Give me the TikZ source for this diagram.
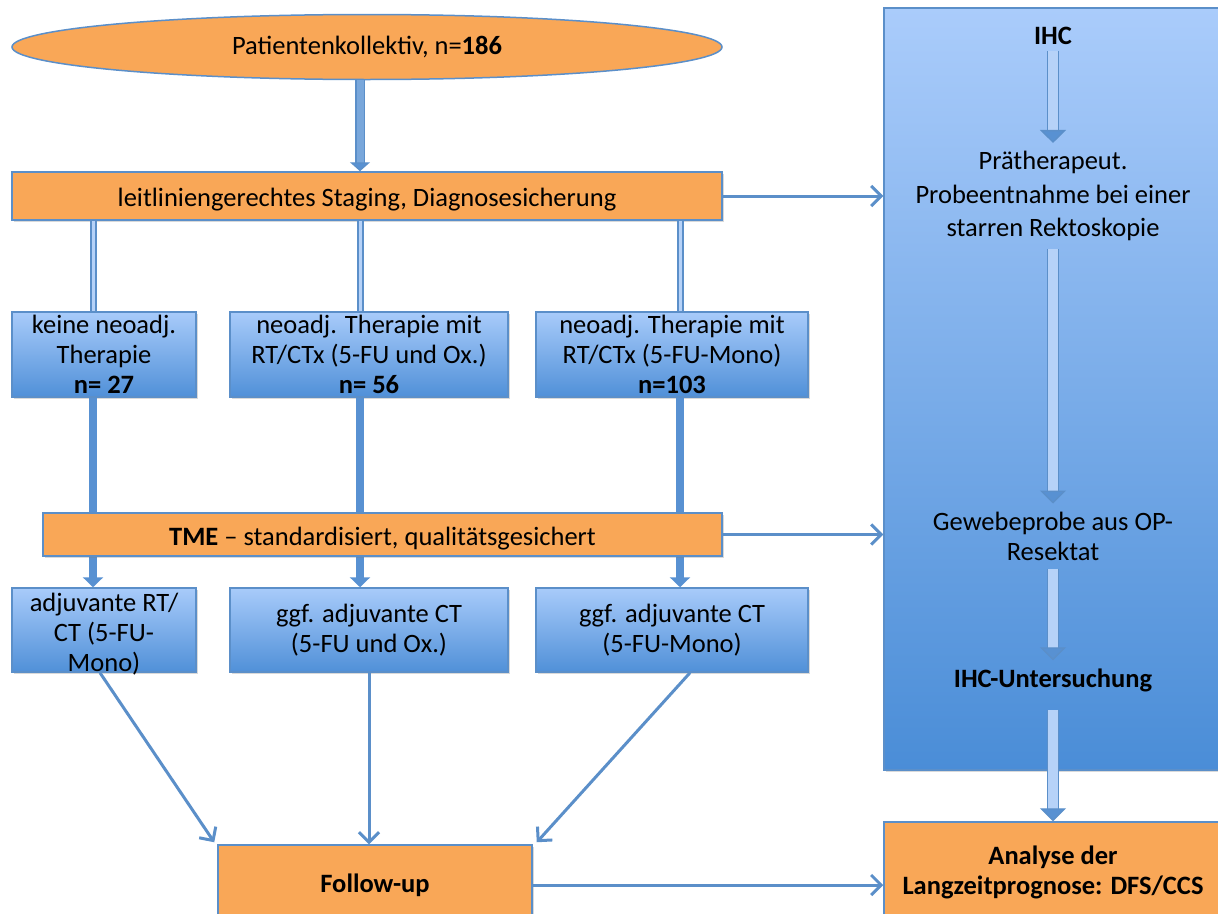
\documentclass[tikz,border=0pt]{standalone}
\usepackage{fontspec}
\setmainfont{Carlito}
\usetikzlibrary{arrows.meta,shapes.geometric,calc,shadows}
\definecolor{org}{RGB}{249,167,87}
\definecolor{bord}{RGB}{91,143,201}
\definecolor{ltop}{RGB}{168,203,250}
\definecolor{lbot}{RGB}{80,144,216}
\definecolor{ptop}{RGB}{170,204,251}
\definecolor{pbot}{RGB}{74,141,215}
\definecolor{shaft}{RGB}{182,210,248}
\definecolor{solidb}{RGB}{88,145,210}
\begin{document}
\begin{tikzpicture}[x=1pt,y=-1pt,
  font=\fontsize{26.5}{30}\selectfont,
  shad/.style={drop shadow={shadow xshift=2pt,shadow yshift=-2pt,opacity=0.3}},
  obox/.style={draw=bord,line width=1.5pt,fill=org,align=center,inner sep=2pt,shad},
  bbox/.style={draw=bord,line width=1.5pt,top color=ltop,bottom color=lbot,align=center,inner sep=2pt,shad},
  ptext/.style={align=center,inner sep=2pt},
  blockarr/.style={draw=bord,line width=1.3pt,double=shaft,double distance=10pt,
     -{Triangle[width=26pt,length=13pt,fill=solidb]}},
  toparr/.style={draw=bord,line width=1.3pt,double=solidb!80,double distance=7pt,
     -{Triangle[width=20pt,length=9pt,fill=solidb]}},
  colline/.style={draw=bord,line width=2pt,double=shaft,double distance=3pt},
  solidarr/.style={draw=solidb,line width=8pt,-{Triangle[width=20pt,length=10pt]}},
  thinarr/.style={draw=bord,line width=3pt,-{Straight Barb[length=10pt,width=20pt]}}
]
\useasboundingbox (0,0) rectangle (1218,913);

% right panel
\node[draw=bord,line width=1.5pt,top color=ptop,bottom color=pbot,minimum width=336pt,minimum height=762pt,inner sep=0pt,shad] (panel) at (1052,389) {};

% top ellipse and staging
\node[ellipse,draw=bord,line width=1.5pt,fill=org,minimum width=710pt,minimum height=65pt,inner sep=0pt] (ell) at (367,47) {Patientenkollektiv, n=\textbf{186}};
\node[obox,minimum width=710pt,minimum height=48pt] (stag) at (367,196) {};
\node[inner sep=0pt] (stagt) at (367,200) {leitliniengerechtes Staging, Diagnosesicherung};

% column coordinates
\coordinate (c1) at (93,0);
\coordinate (c2) at (360,0);
\coordinate (c3) at (680,0);

% row 1 boxes
\node[bbox,minimum width=184pt,minimum height=85pt] (b1) at (104,354.5) {keine neoadj.\\Therapie\\\textbf{n= 27}};
\node[bbox,minimum width=278pt,minimum height=85pt] (b2) at (369,354.5) {neoadj. Therapie mit\\RT/CTx (5-FU und Ox.)\\\textbf{n= 56}};
\node[bbox,minimum width=272pt,minimum height=85pt] (b3) at (672,354.5) {neoadj. Therapie mit\\RT/CTx (5-FU-Mono)\\\textbf{n=103}};

% row 2 boxes
\node[bbox,minimum width=184pt,minimum height=84pt] (b4) at (104,630) {};
\node[align=center,inner sep=0pt] (b4t) at (104,634) {adjuvante RT/\\CT (5-FU-\\Mono)};
\node[bbox,minimum width=278pt,minimum height=84pt] (b5) at (369,630) {ggf. adjuvante CT\\(5-FU und Ox.)};
\node[bbox,minimum width=272pt,minimum height=84pt] (b6) at (672,630) {ggf. adjuvante CT\\(5-FU-Mono)};

% connectors staging -> row 1
\draw[toparr] (ell.south -| c2) -- (stag.north -| c2);
\draw[colline] (stag.south -| c1) -- (b1.north -| c1);
\draw[colline] (stag.south -| c2) -- (b2.north -| c2);
\draw[colline] (stag.south -| c3) -- (b3.north -| c3);

% row 1 -> row 2 (behind TME)
\draw[solidarr] (b1.south -| c1) -- (b4.north -| c1);
\draw[solidarr] (b2.south -| c2) -- (b5.north -| c2);
\draw[solidarr] (b3.south -| c3) -- (b6.north -| c3);

% TME box on top
\node[obox,minimum width=679pt,minimum height=43pt] (tme) at (382.5,534.5) {};
\node[inner sep=0pt] (tmet) at (382.5,538.5) {\textbf{TME} -- standardisiert, qualitätsgesichert};

% follow-up and analysis
\node[obox,minimum width=314pt,minimum height=80pt] (fu) at (375,885) {\textbf{Follow-up}};
\node[obox,minimum width=338pt,minimum height=100pt] (ana) at (1053,872) {\textbf{Analyse der}\\\textbf{Langzeitprognose: DFS/CCS}};

% panel texts
\node[ptext] (ihc) at (1053,36) {\textbf{IHC}};
\node[ptext,font=\fontsize{26.5}{33.5}\selectfont] (prae) at (1053,196) {Prätherapeut.\\Probeentnahme bei einer\\starren Rektoskopie};
\node[ptext] (gew) at (1053,536) {Gewebeprobe aus OP-\\Resektat};
\node[ptext] (ihcu) at (1053,680) {\textbf{IHC-Untersuchung}};

\draw[blockarr,shorten <=4pt,shorten >=6pt] (ihc.south) -- (prae.north);
\draw[blockarr,shorten <=6pt,shorten >=6pt] (prae.south) -- (gew.north);
\draw[blockarr,shorten <=6pt,shorten >=6pt] (gew.south) -- (ihcu.north);
\draw[blockarr,shorten <=16pt] (ihcu.south) -- (ana.north -| ihcu.south);

% horizontal arrows to the panel
\draw[thinarr] (stag.east) -- (stag.east -| panel.west);
\draw[thinarr] (tme.east) -- (tme.east -| panel.west);
\draw[thinarr] (fu.east) -- (fu.east -| ana.west);

% bottom arrows to follow-up
\draw[thinarr] ($(b4.south)+(-4,0)$) -- ($(fu.north west)+(-3,-2)$);
\draw[thinarr] (b5.south) -- (b5.south |- fu.north);
\draw[thinarr] ($(b6.south)+(18,0)$) -- ($(fu.north east)+(4,-2)$);
\end{tikzpicture}
\end{document}
